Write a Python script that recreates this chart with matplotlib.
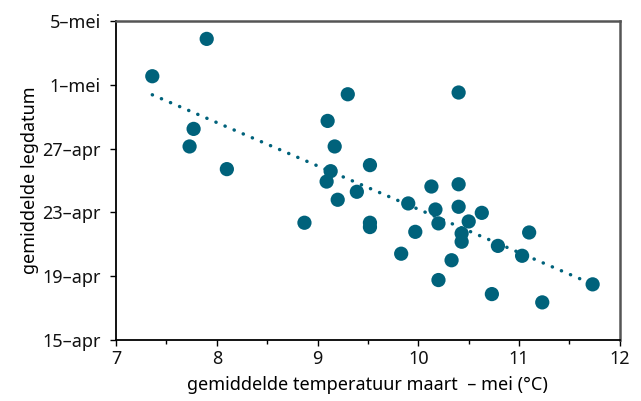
import numpy as np
import matplotlib
matplotlib.use('Agg')
import matplotlib.pyplot as plt
from matplotlib.ticker import MultipleLocator

plt.rcParams['font.family'] = ['Noto Sans', 'DejaVu Sans']

# gemiddelde temperatuur maart - mei (graden C)
temp = [7.36, 7.90, 7.77, 7.73, 8.10, 8.87, 9.09, 9.10, 9.13, 9.17,
        9.20, 9.30, 9.39, 9.52, 9.52, 9.52, 9.83, 9.90, 9.97, 10.13,
        10.17, 10.20, 10.20, 10.33, 10.40, 10.40, 10.40, 10.43, 10.43, 10.50,
        10.63, 10.73, 10.79, 11.03, 11.10, 11.23, 11.73]
# gemiddelde legdatum, dagen na 15 april
legdag = [16.53, 18.87, 13.23, 12.13, 10.71, 7.35, 9.93, 13.73, 10.58, 12.13,
          8.79, 15.40, 9.29, 10.96, 7.35, 7.08, 5.41, 8.56, 6.78, 9.62,
          8.18, 7.31, 3.76, 5.00, 15.51, 9.76, 8.35, 6.68, 6.16, 7.43,
          7.97, 2.88, 5.90, 5.28, 6.74, 2.36, 3.49]

ytick_pos = [0, 4, 8, 12, 16, 20]
ytick_lab = ['15\u2013apr', '19\u2013apr', '23\u2013apr', '27\u2013apr', '1\u2013mei', '5\u2013mei']

kleur = '#00627b'

fig = plt.figure(figsize=(6.41, 4.01), dpi=100)
ax = fig.add_axes([0.181, 0.152, 0.786, 0.796])

ax.scatter(temp, legdag, s=105, color=kleur, edgecolors='none', zorder=3)

# trendlijn
t = np.array(temp)
a, b = np.polyfit(t, np.array(legdag), 1)
xs = np.array([t.min(), t.max()])
ax.plot(xs, a * xs + b, color=kleur, lw=2.5, linestyle=(0, (0.05, 2.8)),
        dash_capstyle='round', zorder=2)

ax.set_xlim(7, 12)
ax.set_ylim(0, 20)
ax.set_xticks([7, 8, 9, 10, 11, 12])
ax.xaxis.set_minor_locator(MultipleLocator(0.5))
ax.set_yticks(ytick_pos)
ax.set_yticklabels(ytick_lab)

ax.tick_params(axis='both', which='major', direction='out', length=4, width=1,
               labelsize=13, color='black', labelcolor='#111111')
ax.tick_params(axis='x', which='minor', direction='out', length=3, width=1)
ax.tick_params(axis='y', pad=7)
ax.tick_params(axis='x', pad=3)

for s in ['left', 'bottom']:
    ax.spines[s].set_color('black')
    ax.spines[s].set_linewidth(1.3)
for s in ['top', 'right']:
    ax.spines[s].set_color('#555555')
    ax.spines[s].set_linewidth(1.8)

ax.set_xlabel('gemiddelde temperatuur maart  \u2013 mei (\u00b0C)', fontsize=13, labelpad=6)
ax.set_ylabel('gemiddelde legdatum', fontsize=13, labelpad=2)

fig.savefig('out.png', dpi=100)
